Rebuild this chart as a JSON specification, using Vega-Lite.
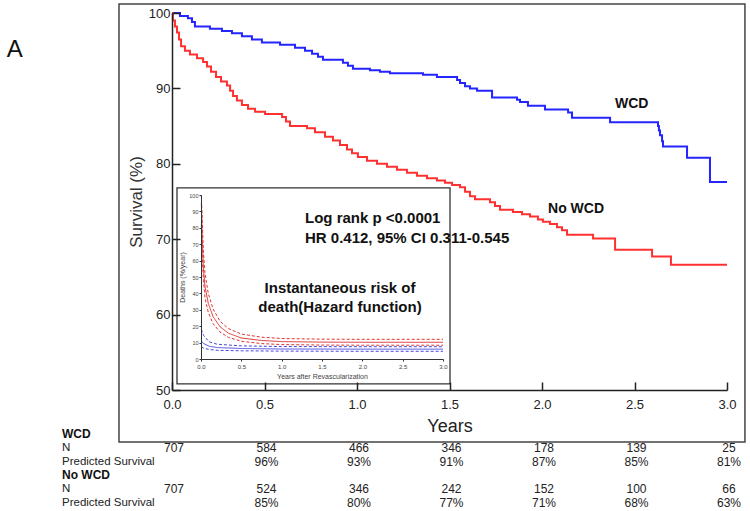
{
  "$schema": "https://vega.github.io/schema/vega-lite/v6.json",
  "width": 555,
  "height": 377,
  "autosize": {"type": "none"},
  "padding": {"left": 172, "top": 13, "right": 23, "bottom": 121},
  "background": "white",
  "config": {
    "view": {"stroke": null},
    "font": "Liberation Sans",
    "text": {"font": "Liberation Sans"}
  },
  "datasets": {
    "km": [
      {"group": "WCD", "t": 0, "s": 100},
      {"group": "WCD", "t": 0.043, "s": 99.6},
      {"group": "WCD", "t": 0.086, "s": 99.3},
      {"group": "WCD", "t": 0.108, "s": 98.8},
      {"group": "WCD", "t": 0.124, "s": 98.2},
      {"group": "WCD", "t": 0.205, "s": 97.9},
      {"group": "WCD", "t": 0.27, "s": 97.6},
      {"group": "WCD", "t": 0.324, "s": 97.3},
      {"group": "WCD", "t": 0.378, "s": 96.9},
      {"group": "WCD", "t": 0.432, "s": 96.5},
      {"group": "WCD", "t": 0.486, "s": 96.1},
      {"group": "WCD", "t": 0.584, "s": 95.8},
      {"group": "WCD", "t": 0.665, "s": 95.4},
      {"group": "WCD", "t": 0.719, "s": 95.0},
      {"group": "WCD", "t": 0.757, "s": 94.6},
      {"group": "WCD", "t": 0.789, "s": 94.2},
      {"group": "WCD", "t": 0.816, "s": 93.8},
      {"group": "WCD", "t": 0.924, "s": 93.4},
      {"group": "WCD", "t": 0.951, "s": 93.0},
      {"group": "WCD", "t": 0.978, "s": 92.6},
      {"group": "WCD", "t": 1.07, "s": 92.4},
      {"group": "WCD", "t": 1.124, "s": 92.2},
      {"group": "WCD", "t": 1.178, "s": 92.0},
      {"group": "WCD", "t": 1.357, "s": 91.8},
      {"group": "WCD", "t": 1.432, "s": 91.5},
      {"group": "WCD", "t": 1.541, "s": 91.1},
      {"group": "WCD", "t": 1.557, "s": 90.7},
      {"group": "WCD", "t": 1.584, "s": 90.3},
      {"group": "WCD", "t": 1.611, "s": 90.0},
      {"group": "WCD", "t": 1.649, "s": 89.7},
      {"group": "WCD", "t": 1.73, "s": 88.8},
      {"group": "WCD", "t": 1.865, "s": 88.5},
      {"group": "WCD", "t": 1.881, "s": 88.2},
      {"group": "WCD", "t": 1.924, "s": 87.7},
      {"group": "WCD", "t": 2.016, "s": 87.2},
      {"group": "WCD", "t": 2.141, "s": 86.8},
      {"group": "WCD", "t": 2.162, "s": 86.1},
      {"group": "WCD", "t": 2.368, "s": 85.5},
      {"group": "WCD", "t": 2.627, "s": 85.0},
      {"group": "WCD", "t": 2.632, "s": 84.4},
      {"group": "WCD", "t": 2.638, "s": 83.8},
      {"group": "WCD", "t": 2.649, "s": 83.0},
      {"group": "WCD", "t": 2.654, "s": 82.3},
      {"group": "WCD", "t": 2.784, "s": 80.8},
      {"group": "WCD", "t": 2.908, "s": 77.6},
      {"group": "WCD", "t": 3.0, "s": 77.6},
      {"group": "No WCD", "t": 0, "s": 100},
      {"group": "No WCD", "t": 0.005, "s": 99.0},
      {"group": "No WCD", "t": 0.016, "s": 98.2},
      {"group": "No WCD", "t": 0.027, "s": 97.4},
      {"group": "No WCD", "t": 0.038, "s": 96.5},
      {"group": "No WCD", "t": 0.049, "s": 95.6},
      {"group": "No WCD", "t": 0.07, "s": 95.0},
      {"group": "No WCD", "t": 0.097, "s": 94.5},
      {"group": "No WCD", "t": 0.135, "s": 94.0},
      {"group": "No WCD", "t": 0.168, "s": 93.5},
      {"group": "No WCD", "t": 0.189, "s": 92.9},
      {"group": "No WCD", "t": 0.211, "s": 92.2},
      {"group": "No WCD", "t": 0.238, "s": 91.5},
      {"group": "No WCD", "t": 0.265, "s": 90.9},
      {"group": "No WCD", "t": 0.297, "s": 90.4},
      {"group": "No WCD", "t": 0.314, "s": 89.7},
      {"group": "No WCD", "t": 0.33, "s": 89.0},
      {"group": "No WCD", "t": 0.351, "s": 88.4},
      {"group": "No WCD", "t": 0.378, "s": 87.8},
      {"group": "No WCD", "t": 0.411, "s": 87.3},
      {"group": "No WCD", "t": 0.449, "s": 86.9},
      {"group": "No WCD", "t": 0.503, "s": 86.6},
      {"group": "No WCD", "t": 0.595, "s": 86.2},
      {"group": "No WCD", "t": 0.616, "s": 85.6},
      {"group": "No WCD", "t": 0.638, "s": 85.0},
      {"group": "No WCD", "t": 0.73, "s": 84.7},
      {"group": "No WCD", "t": 0.773, "s": 84.2},
      {"group": "No WCD", "t": 0.827, "s": 83.6},
      {"group": "No WCD", "t": 0.87, "s": 83.1},
      {"group": "No WCD", "t": 0.908, "s": 82.5},
      {"group": "No WCD", "t": 0.946, "s": 81.9},
      {"group": "No WCD", "t": 0.973, "s": 81.4},
      {"group": "No WCD", "t": 1.005, "s": 80.9},
      {"group": "No WCD", "t": 1.054, "s": 80.4},
      {"group": "No WCD", "t": 1.108, "s": 80.0},
      {"group": "No WCD", "t": 1.162, "s": 79.6},
      {"group": "No WCD", "t": 1.216, "s": 79.2},
      {"group": "No WCD", "t": 1.27, "s": 78.8},
      {"group": "No WCD", "t": 1.324, "s": 78.4},
      {"group": "No WCD", "t": 1.378, "s": 78.1},
      {"group": "No WCD", "t": 1.432, "s": 77.8},
      {"group": "No WCD", "t": 1.476, "s": 77.5},
      {"group": "No WCD", "t": 1.514, "s": 77.2},
      {"group": "No WCD", "t": 1.557, "s": 76.9},
      {"group": "No WCD", "t": 1.584, "s": 76.3},
      {"group": "No WCD", "t": 1.611, "s": 75.7},
      {"group": "No WCD", "t": 1.638, "s": 75.3},
      {"group": "No WCD", "t": 1.719, "s": 74.9},
      {"group": "No WCD", "t": 1.746, "s": 74.4},
      {"group": "No WCD", "t": 1.773, "s": 73.9},
      {"group": "No WCD", "t": 1.843, "s": 73.6},
      {"group": "No WCD", "t": 1.892, "s": 73.3},
      {"group": "No WCD", "t": 1.935, "s": 73.0},
      {"group": "No WCD", "t": 1.978, "s": 72.6},
      {"group": "No WCD", "t": 2.005, "s": 72.3},
      {"group": "No WCD", "t": 2.043, "s": 72.0},
      {"group": "No WCD", "t": 2.081, "s": 71.6},
      {"group": "No WCD", "t": 2.108, "s": 71.2},
      {"group": "No WCD", "t": 2.135, "s": 70.6},
      {"group": "No WCD", "t": 2.276, "s": 70.1},
      {"group": "No WCD", "t": 2.395, "s": 68.6},
      {"group": "No WCD", "t": 2.595, "s": 67.7},
      {"group": "No WCD", "t": 2.697, "s": 66.6},
      {"group": "No WCD", "t": 3.0, "s": 66.6}
    ],
    "hazard": [
      {"group": "No WCD", "band": "estimate", "t": 0.004, "h": 95},
      {"group": "No WCD", "band": "estimate", "t": 0.01, "h": 86},
      {"group": "No WCD", "band": "estimate", "t": 0.016, "h": 73},
      {"group": "No WCD", "band": "estimate", "t": 0.029, "h": 56},
      {"group": "No WCD", "band": "estimate", "t": 0.05, "h": 44},
      {"group": "No WCD", "band": "estimate", "t": 0.09, "h": 34},
      {"group": "No WCD", "band": "estimate", "t": 0.15, "h": 25.8},
      {"group": "No WCD", "band": "estimate", "t": 0.236, "h": 19.7},
      {"group": "No WCD", "band": "estimate", "t": 0.34, "h": 15.7},
      {"group": "No WCD", "band": "estimate", "t": 0.5, "h": 12.8},
      {"group": "No WCD", "band": "estimate", "t": 0.75, "h": 11.3},
      {"group": "No WCD", "band": "estimate", "t": 1.0, "h": 10.6},
      {"group": "No WCD", "band": "estimate", "t": 1.5, "h": 10.3},
      {"group": "No WCD", "band": "estimate", "t": 2.0, "h": 10.2},
      {"group": "No WCD", "band": "estimate", "t": 3.0, "h": 10.2},
      {"group": "No WCD", "band": "upper", "t": 0.004, "h": 100},
      {"group": "No WCD", "band": "upper", "t": 0.016, "h": 84},
      {"group": "No WCD", "band": "upper", "t": 0.03, "h": 65},
      {"group": "No WCD", "band": "upper", "t": 0.05, "h": 52},
      {"group": "No WCD", "band": "upper", "t": 0.09, "h": 40},
      {"group": "No WCD", "band": "upper", "t": 0.15, "h": 30.5},
      {"group": "No WCD", "band": "upper", "t": 0.236, "h": 23},
      {"group": "No WCD", "band": "upper", "t": 0.34, "h": 18.5},
      {"group": "No WCD", "band": "upper", "t": 0.5, "h": 15.2},
      {"group": "No WCD", "band": "upper", "t": 0.75, "h": 13.3},
      {"group": "No WCD", "band": "upper", "t": 1.0, "h": 12.5},
      {"group": "No WCD", "band": "upper", "t": 1.5, "h": 12.1},
      {"group": "No WCD", "band": "upper", "t": 2.0, "h": 12.0},
      {"group": "No WCD", "band": "upper", "t": 3.0, "h": 12.0},
      {"group": "No WCD", "band": "lower", "t": 0.004, "h": 82},
      {"group": "No WCD", "band": "lower", "t": 0.016, "h": 62},
      {"group": "No WCD", "band": "lower", "t": 0.03, "h": 48},
      {"group": "No WCD", "band": "lower", "t": 0.05, "h": 37},
      {"group": "No WCD", "band": "lower", "t": 0.09, "h": 28.5},
      {"group": "No WCD", "band": "lower", "t": 0.15, "h": 21.5},
      {"group": "No WCD", "band": "lower", "t": 0.236, "h": 16.5},
      {"group": "No WCD", "band": "lower", "t": 0.34, "h": 13.2},
      {"group": "No WCD", "band": "lower", "t": 0.5, "h": 10.8},
      {"group": "No WCD", "band": "lower", "t": 0.75, "h": 9.4},
      {"group": "No WCD", "band": "lower", "t": 1.0, "h": 8.8},
      {"group": "No WCD", "band": "lower", "t": 1.5, "h": 8.5},
      {"group": "No WCD", "band": "lower", "t": 2.0, "h": 8.4},
      {"group": "No WCD", "band": "lower", "t": 3.0, "h": 8.4},
      {"group": "WCD", "band": "estimate", "t": 0.004, "h": 11},
      {"group": "WCD", "band": "estimate", "t": 0.03, "h": 9.5},
      {"group": "WCD", "band": "estimate", "t": 0.1, "h": 7.8},
      {"group": "WCD", "band": "estimate", "t": 0.2, "h": 7.0},
      {"group": "WCD", "band": "estimate", "t": 0.5, "h": 6.4},
      {"group": "WCD", "band": "estimate", "t": 1.0, "h": 6.1},
      {"group": "WCD", "band": "estimate", "t": 2.0, "h": 6.0},
      {"group": "WCD", "band": "estimate", "t": 3.0, "h": 6.0},
      {"group": "WCD", "band": "upper", "t": 0.004, "h": 18},
      {"group": "WCD", "band": "upper", "t": 0.03, "h": 14.5},
      {"group": "WCD", "band": "upper", "t": 0.1, "h": 10.5},
      {"group": "WCD", "band": "upper", "t": 0.2, "h": 9.0},
      {"group": "WCD", "band": "upper", "t": 0.5, "h": 8.0},
      {"group": "WCD", "band": "upper", "t": 1.0, "h": 7.6},
      {"group": "WCD", "band": "upper", "t": 2.0, "h": 7.5},
      {"group": "WCD", "band": "upper", "t": 3.0, "h": 7.5},
      {"group": "WCD", "band": "lower", "t": 0.004, "h": 7.5},
      {"group": "WCD", "band": "lower", "t": 0.03, "h": 6.6},
      {"group": "WCD", "band": "lower", "t": 0.1, "h": 5.8},
      {"group": "WCD", "band": "lower", "t": 0.2, "h": 5.3},
      {"group": "WCD", "band": "lower", "t": 0.5, "h": 5.0},
      {"group": "WCD", "band": "lower", "t": 1.0, "h": 4.8},
      {"group": "WCD", "band": "lower", "t": 2.0, "h": 4.7},
      {"group": "WCD", "band": "lower", "t": 3.0, "h": 4.7}
    ],
    "table": [
      {"row": "wcd_n", "year": 0, "value": "707"},
      {"row": "wcd_n", "year": 0.5, "value": "584"},
      {"row": "wcd_n", "year": 1.0, "value": "466"},
      {"row": "wcd_n", "year": 1.5, "value": "346"},
      {"row": "wcd_n", "year": 2.0, "value": "178"},
      {"row": "wcd_n", "year": 2.5, "value": "139"},
      {"row": "wcd_n", "year": 3.0, "value": "25"},
      {"row": "wcd_pred", "year": 0.5, "value": "96%"},
      {"row": "wcd_pred", "year": 1.0, "value": "93%"},
      {"row": "wcd_pred", "year": 1.5, "value": "91%"},
      {"row": "wcd_pred", "year": 2.0, "value": "87%"},
      {"row": "wcd_pred", "year": 2.5, "value": "85%"},
      {"row": "wcd_pred", "year": 3.0, "value": "81%"},
      {"row": "nowcd_n", "year": 0, "value": "707"},
      {"row": "nowcd_n", "year": 0.5, "value": "524"},
      {"row": "nowcd_n", "year": 1.0, "value": "346"},
      {"row": "nowcd_n", "year": 1.5, "value": "242"},
      {"row": "nowcd_n", "year": 2.0, "value": "152"},
      {"row": "nowcd_n", "year": 2.5, "value": "100"},
      {"row": "nowcd_n", "year": 3.0, "value": "66"},
      {"row": "nowcd_pred", "year": 0.5, "value": "85%"},
      {"row": "nowcd_pred", "year": 1.0, "value": "80%"},
      {"row": "nowcd_pred", "year": 1.5, "value": "77%"},
      {"row": "nowcd_pred", "year": 2.0, "value": "71%"},
      {"row": "nowcd_pred", "year": 2.5, "value": "68%"},
      {"row": "nowcd_pred", "year": 3.0, "value": "63%"}
    ],
    "rowlabels": [
      {"row": "wcd_head", "label": "WCD"},
      {"row": "wcd_n", "label": "N"},
      {"row": "wcd_pred", "label": "Predicted Survival"},
      {"row": "nowcd_head", "label": "No WCD"},
      {"row": "nowcd_n", "label": "N"},
      {"row": "nowcd_pred", "label": "Predicted Survival"}
    ]
  },
  "layer": [
    {
      "data": {"values": [{}]},
      "mark": {"type": "rect", "fill": null, "stroke": "#444", "strokeWidth": 1.5},
      "encoding": {
        "x": {"datum": -0.2865, "type": "quantitative", "scale": {"domain": [0, 3], "nice": false, "zero": false}, "axis": null},
        "x2": {"datum": 3.097},
        "y": {"datum": 101.19, "type": "quantitative", "scale": {"domain": [50, 100], "nice": false, "zero": false}, "axis": null},
        "y2": {"datum": 43.1}
      }
    },
    {
      "data": {"name": "km"},
      "mark": {"type": "line", "interpolate": "step-after", "strokeWidth": 2},
      "encoding": {
        "x": {
          "field": "t", "type": "quantitative",
          "scale": {"domain": [0, 3], "nice": false, "zero": false},
          "axis": {
            "orient": "bottom", "title": "Years", "values": [0, 0.5, 1, 1.5, 2, 2.5, 3], "format": ".1f",
            "grid": false, "zindex": 2, "labelFlush": false,
            "labelFontSize": 13, "labelColor": "#222", "labelPadding": 16,
            "tickSize": -8, "tickWidth": 1.5, "tickColor": "#222",
            "domainColor": "#222", "domainWidth": 1.5,
            "titleFontSize": 18, "titleFontWeight": "normal", "titleColor": "#222", "titlePadding": 6
          }
        },
        "y": {
          "field": "s", "type": "quantitative",
          "scale": {"domain": [50, 100], "nice": false, "zero": false},
          "axis": {
            "orient": "left", "title": "Survival (%)", "values": [50, 60, 70, 80, 90, 100],
            "grid": false, "zindex": 2, "labelFlush": false,
            "labelFontSize": 13, "labelColor": "#222", "labelPadding": 10,
            "tickSize": -8, "tickWidth": 1.5, "tickColor": "#222",
            "domainColor": "#222", "domainWidth": 1.5,
            "titleFontSize": 17, "titleFontWeight": "normal", "titleColor": "#333", "titlePadding": 3
          }
        },
        "color": {
          "field": "group", "type": "nominal",
          "scale": {"domain": ["WCD", "No WCD"], "range": ["#2424ff", "#ff3030"]},
          "legend": null
        }
      }
    },
    {
      "data": {"values": [
        {"label": "WCD", "t": 2.485, "s": 87.9},
        {"label": "No WCD", "t": 2.184, "s": 74.0}
      ]},
      "mark": {"type": "text", "fontSize": 14, "fontWeight": "bold", "color": "#111", "align": "center", "baseline": "middle"},
      "encoding": {
        "x": {"field": "t", "type": "quantitative", "scale": {"domain": [0, 3], "nice": false, "zero": false}, "axis": null},
        "y": {"field": "s", "type": "quantitative", "scale": {"domain": [50, 100], "nice": false, "zero": false}, "axis": null},
        "text": {"field": "label"}
      }
    },
    {
      "data": {"values": [{"label": "A"}]},
      "mark": {"type": "text", "fontSize": 24, "color": "#111", "align": "center", "baseline": "middle"},
      "encoding": {
        "x": {"datum": -0.85, "type": "quantitative", "scale": {"domain": [0, 3], "nice": false, "zero": false}, "axis": null},
        "y": {"datum": 95.1, "type": "quantitative", "scale": {"domain": [50, 100], "nice": false, "zero": false}, "axis": null},
        "text": {"field": "label"}
      }
    },
    {
      "data": {"values": [{}]},
      "mark": {"type": "rect", "fill": "white", "stroke": "#333", "strokeWidth": 1.3},
      "encoding": {
        "x": {"datum": -0.2975, "type": "quantitative", "scale": {"domain": [0, 3], "range": [29, 271], "nice": false, "zero": false}, "axis": null},
        "x2": {"datum": 3.087},
        "y": {"datum": 104.3, "type": "quantitative", "scale": {"domain": [0, 100], "range": [346, 182], "nice": false, "zero": false}, "axis": null},
        "y2": {"datum": -15.2}
      }
    },
    {
      "data": {"name": "hazard"},
      "mark": {"type": "line", "strokeWidth": 1},
      "encoding": {
        "x": {
          "field": "t", "type": "quantitative",
          "scale": {"domain": [0, 3], "range": [29, 271], "nice": false, "zero": false},
          "axis": {
            "orient": "bottom", "offset": -31, "title": "Years after Revascularization", "zindex": 1,
            "values": [0, 0.5, 1, 1.5, 2, 2.5, 3], "format": ".1f", "grid": false, "labelFlush": false,
            "labelFontSize": 6, "labelColor": "#444", "labelPadding": 2, "tickSize": 2,
            "domainColor": "#333", "tickColor": "#333",
            "titleFontSize": 7, "titleFontWeight": "normal", "titleColor": "#444", "titlePadding": 3
          }
        },
        "y": {
          "field": "h", "type": "quantitative",
          "scale": {"domain": [0, 100], "range": [346, 182], "nice": false, "zero": false},
          "axis": {
            "orient": "left", "offset": -29, "title": "Deaths (%/year)", "zindex": 1,
            "values": [0, 10, 20, 30, 40, 50, 60, 70, 80, 90, 100], "grid": false, "labelFlush": false,
            "labelFontSize": 5.5, "labelColor": "#444", "labelPadding": 1, "tickSize": 2,
            "domainColor": "#333", "tickColor": "#333",
            "titleFontSize": 7, "titleFontWeight": "normal", "titleColor": "#444", "titlePadding": 3
          }
        },
        "color": {
          "field": "group", "type": "nominal",
          "scale": {"domain": ["WCD", "No WCD"], "range": ["#4848e0", "#e03434"]},
          "legend": null
        },
        "strokeDash": {
          "field": "band", "type": "nominal",
          "scale": {"domain": ["estimate", "upper", "lower"], "range": [[1, 0], [3, 2], [3, 2]]},
          "legend": null
        }
      }
    },
    {
      "data": {"values": [
        {"label": "Log rank p <0.0001", "t": 1.289, "h": 86.0},
        {"label": "HR 0.412, 95% CI 0.311-0.545", "t": 1.289, "h": 73.8}
      ]},
      "mark": {"type": "text", "fontSize": 15, "fontWeight": "bold", "color": "#111", "align": "left", "baseline": "middle"},
      "encoding": {
        "x": {"field": "t", "type": "quantitative", "scale": {"domain": [0, 3], "range": [29, 271], "nice": false, "zero": false}, "axis": null},
        "y": {"field": "h", "type": "quantitative", "scale": {"domain": [0, 100], "range": [346, 182], "nice": false, "zero": false}, "axis": null},
        "text": {"field": "label"}
      }
    },
    {
      "data": {"values": [
        {"label": "Instantaneous risk of", "t": 1.723, "h": 43.3},
        {"label": "death(Hazard function)", "t": 1.723, "h": 31.9}
      ]},
      "mark": {"type": "text", "fontSize": 15, "fontWeight": "bold", "color": "#111", "align": "center", "baseline": "middle"},
      "encoding": {
        "x": {"field": "t", "type": "quantitative", "scale": {"domain": [0, 3], "range": [29, 271], "nice": false, "zero": false}, "axis": null},
        "y": {"field": "h", "type": "quantitative", "scale": {"domain": [0, 100], "range": [346, 182], "nice": false, "zero": false}, "axis": null},
        "text": {"field": "label"}
      }
    },
    {
      "data": {"name": "table"},
      "mark": {"type": "text", "fontSize": 12, "color": "#222", "align": "center", "baseline": "middle", "dx": 2},
      "encoding": {
        "x": {"field": "year", "type": "quantitative", "scale": {"domain": [0, 3], "nice": false, "zero": false}, "axis": null},
        "y": {"field": "row", "type": "nominal", "scale": {"type": "point", "domain": ["wcd_head", "wcd_n", "wcd_pred", "nowcd_head", "nowcd_n", "nowcd_pred"], "range": [421, 490], "padding": 0}, "axis": null},
        "text": {"field": "value"}
      }
    },
    {
      "data": {"name": "rowlabels"},
      "transform": [{"filter": "datum.row === 'wcd_head' || datum.row === 'nowcd_head'"}],
      "mark": {"type": "text", "fontSize": 12, "fontWeight": "bold", "color": "#111", "align": "left", "baseline": "middle"},
      "encoding": {
        "x": {"datum": -0.5946, "type": "quantitative", "scale": {"domain": [0, 3], "nice": false, "zero": false}, "axis": null},
        "y": {"field": "row", "type": "nominal", "scale": {"type": "point", "domain": ["wcd_head", "wcd_n", "wcd_pred", "nowcd_head", "nowcd_n", "nowcd_pred"], "range": [421, 490], "padding": 0}, "axis": null},
        "text": {"field": "label"}
      }
    },
    {
      "data": {"name": "rowlabels"},
      "transform": [{"filter": "datum.row !== 'wcd_head' && datum.row !== 'nowcd_head'"}],
      "mark": {"type": "text", "fontSize": 11.5, "color": "#222", "align": "left", "baseline": "middle"},
      "encoding": {
        "x": {"datum": -0.5946, "type": "quantitative", "scale": {"domain": [0, 3], "nice": false, "zero": false}, "axis": null},
        "y": {"field": "row", "type": "nominal", "scale": {"type": "point", "domain": ["wcd_head", "wcd_n", "wcd_pred", "nowcd_head", "nowcd_n", "nowcd_pred"], "range": [421, 490], "padding": 0}, "axis": null},
        "text": {"field": "label"}
      }
    }
  ],
  "resolve": {
    "scale": {"x": "independent", "y": "independent", "color": "independent", "strokeDash": "independent"}
  }
}
